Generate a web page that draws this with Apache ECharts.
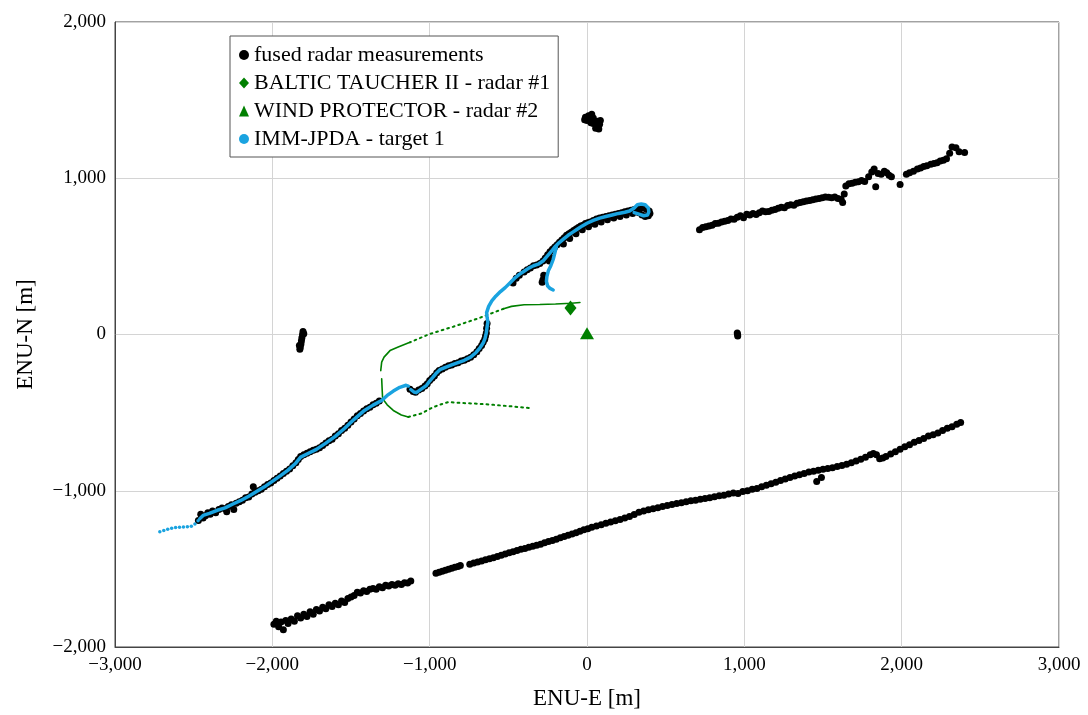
<!DOCTYPE html>
<html>
<head>
<meta charset="utf-8">
<script src="https://cdn.jsdelivr.net/npm/echarts@6/dist/echarts.min.js"></script>
<style>
html,body{margin:0;padding:0;background:#fff;}
#chart{width:1088px;height:715px;}
</style>
</head>
<body>
<div id="chart"></div>
<script>
// ---------- axis ticks ----------
const xTicks = [-3000, -2000, -1000, 0, 1000, 2000, 3000];
const yTicks = [-2000, -1000, 0, 1000, 2000];

// ---------- legend names ----------
const seriesNames = ['fused radar measurements', 'BALTIC TAUCHER II - radar #1', 'WIND PROTECTOR - radar #2', 'IMM-JPDA - target 1'];

// ---------- fused radar measurements (black) ----------
const fusedLowerA = [[-1990,-1855],[-1975,-1835],[-1960,-1870],[-1945,-1840],[-1930,-1890],[-1915,-1830],[-1900,-1850],[-1880,-1820],[-1860,-1835],[-1840,-1800],[-1820,-1815],[-1800,-1790],[-1780,-1805],[-1760,-1775],[-1740,-1790],[-1720,-1760],[-1700,-1770],[-1680,-1745],[-1660,-1755],[-1640,-1730],[-1620,-1740],[-1600,-1720],[-1580,-1730],[-1560,-1705],[-1540,-1715],[-1520,-1690],[-1500,-1680],[-1480,-1670],[-1460,-1650],[-1440,-1655],[-1420,-1640],[-1400,-1645],[-1380,-1630],[-1360,-1625],[-1340,-1630],[-1320,-1615],[-1300,-1620],[-1280,-1605],[-1260,-1610],[-1240,-1600],[-1220,-1605],[-1200,-1595],[-1180,-1600],[-1160,-1588],[-1140,-1590],[-1120,-1578]];
const fusedLowerB = [[-960,-1528],[-940,-1522],[-920,-1515],[-900,-1508],[-880,-1502],[-860,-1496],[-840,-1490],[-820,-1484],[-805,-1478],[-745,-1470],[-720,-1463],[-695,-1456],[-670,-1449],[-645,-1442],[-620,-1435],[-595,-1428],[-570,-1421],[-545,-1413],[-520,-1405],[-495,-1397],[-470,-1390],[-445,-1383],[-420,-1375],[-395,-1369],[-370,-1362],[-345,-1355],[-320,-1348],[-295,-1342],[-270,-1333],[-245,-1325],[-220,-1318],[-195,-1310],[-170,-1300],[-145,-1292],[-120,-1285],[-95,-1276],[-70,-1268],[-45,-1259],[-20,-1250],[5,-1243]];
const fusedLowerC = [[30,-1234],[60,-1226],[90,-1218],[120,-1208],[150,-1200],[180,-1192],[210,-1184],[240,-1175],[270,-1165],[300,-1152],[330,-1138],[360,-1130],[390,-1122],[420,-1115],[450,-1108],[480,-1100],[510,-1094],[540,-1088],[570,-1082],[600,-1076],[630,-1070],[660,-1064],[690,-1060],[720,-1054],[750,-1050],[780,-1044],[810,-1038],[840,-1032],[870,-1028],[900,-1020],[930,-1015],[960,-1018],[990,-1005],[1020,-1000],[1050,-990],[1080,-985],[1110,-975],[1140,-965],[1170,-955],[1200,-945],[1230,-935],[1260,-925],[1290,-915],[1320,-905],[1350,-898],[1380,-890],[1410,-880],[1440,-875],[1460,-940],[1470,-868],[1490,-915],[1500,-862],[1530,-858],[1560,-852],[1590,-845],[1620,-838],[1650,-830],[1680,-820],[1710,-810],[1740,-798],[1770,-785],[1800,-770],[1820,-762],[1840,-770],[1860,-795],[1880,-790],[1900,-780],[1930,-765],[1960,-750],[1990,-735],[2020,-718],[2050,-705],[2080,-690],[2110,-678],[2140,-665],[2170,-650],[2200,-642],[2230,-630],[2260,-615],[2290,-600],[2320,-590],[2350,-575],[2375,-563]];
const fusedUpperRight = [[715,670],[735,685],[755,690],[775,695],[795,700],[815,710],[835,712],[855,720],[875,725],[895,730],[915,740],[935,738],[955,750],[975,760],[995,748],[1015,770],[1035,765],[1055,775],[1075,768],[1095,780],[1115,790],[1135,785],[1155,788],[1175,795],[1195,800],[1215,808],[1235,815],[1255,812],[1275,825],[1295,830],[1315,828],[1335,840],[1355,845],[1375,850],[1395,855],[1415,858],[1435,862],[1455,868],[1475,870],[1495,875],[1515,880],[1535,878],[1555,875],[1575,880],[1595,870],[1615,865],[1625,845],[1635,900],[1645,950],[1665,965],[1685,968],[1705,975],[1725,978],[1745,985],[1765,980],[1790,1010],[1810,1040],[1825,1060],[1835,945],[1850,1030],[1870,1025],[1890,1045],[1905,1035],[1920,1020],[1935,1010],[1990,960],[2030,1025],[2050,1035],[2075,1045],[2100,1060],[2120,1065],[2140,1075],[2160,1080],[2185,1090],[2205,1095],[2225,1100],[2245,1110],[2265,1115],[2285,1125],[2305,1160],[2320,1200],[2345,1195],[2365,1170],[2400,1165]];
const fusedTargetA = [[-2470,-1190],[-2455,-1150],[-2440,-1175],[-2425,-1160],[-2410,-1140],[-2395,-1150],[-2380,-1130],[-2360,-1140],[-2340,-1120],[-2320,-1110],[-2300,-1115],[-2290,-1134],[-2280,-1100],[-2260,-1090],[-2245,-1120],[-2230,-1080],[-2210,-1070],[-2190,-1060],[-2170,-1045],[-2150,-1040],[-2130,-1020],[-2121,-975],[-2110,-1010],[-2090,-1000],[-2070,-990],[-2050,-975],[-2030,-960],[-2010,-950],[-1990,-935],[-1970,-920],[-1950,-905],[-1930,-890],[-1910,-875],[-1890,-860],[-1870,-840],[-1850,-820],[-1835,-800],[-1820,-780],[-1800,-770],[-1780,-760],[-1760,-750],[-1740,-740],[-1720,-735],[-1700,-725],[-1680,-710],[-1660,-695],[-1640,-680],[-1620,-670],[-1600,-650],[-1580,-635],[-1560,-615],[-1540,-600],[-1520,-580],[-1500,-560],[-1480,-540],[-1460,-520],[-1440,-505],[-1420,-490],[-1400,-475],[-1380,-465],[-1360,-450],[-1340,-440],[-1320,-425]];
const fusedTargetB = [[-1125,-350],[-1105,-365],[-1090,-370],[-1070,-355],[-1050,-345],[-1030,-330],[-1015,-315],[-1000,-295],[-985,-280],[-970,-265],[-955,-245],[-940,-230],[-920,-220],[-900,-210],[-880,-200],[-860,-195],[-840,-185],[-820,-180],[-800,-170],[-780,-165],[-760,-155],[-740,-145],[-720,-130],[-700,-110],[-685,-90],[-670,-70],[-660,-50],[-650,-30],[-645,-10],[-640,10],[-638,40],[-635,70],[-470,330],[-450,360],[-430,380]];
const fusedTargetC = [[-400,400],[-380,415],[-360,425],[-340,440],[-320,445],[-300,455],[-280,470],[-265,490],[-250,510],[-235,530],[-220,545],[-205,560],[-190,575],[-175,590],[-160,605],[-145,620],[-130,635],[-115,645],[-100,655],[-85,665],[-70,675],[-55,685],[-40,695],[-25,700],[-10,710],[5,715],[20,720],[40,730],[60,740],[80,745],[100,750],[120,755],[140,760],[160,765],[180,770],[200,775],[220,780],[240,785],[260,790],[280,795],[300,800],[320,805],[340,810],[360,810],[380,800],[395,790],[400,775],[390,760],[370,755],[350,765],[-150,580],[-110,615],[-70,645],[-30,670],[10,690],[50,705],[90,720],[130,735],[170,745],[210,755],[250,765],[290,775],[330,780],[-275,380],[-280,350],[-285,335],[-240,470],[-230,490]];
const fusedClusters = [[-10,1390],[10,1400],[30,1410],[20,1380],[0,1370],[-15,1375],[40,1385],[50,1360],[60,1340],[70,1330],[80,1345],[85,1370],[65,1365],[40,1350],[55,1320],[75,1315],[25,1355],[-1805,20],[-1808,0],[-1812,-20],[-1815,-40],[-1818,-60],[-1822,-80],[-1825,-95],[-1800,5],[-1828,-70],[955,10],[958,-10],[957,0]];

// ---------- radar ownship positions ----------
const radar1Pos = [[-105,170]];
const radar2Pos = [[0,8]];

// ---------- ownship track of radar #1 (green) ----------
const greenSolid1 = [[-45,205],[-100,200],[-200,195],[-300,192],[-400,190],[-480,180],[-530,165]];
const greenDotted1 = [[-530,165],[-700,100],[-850,50],[-1000,3],[-1125,-50]];
const greenSolid2 = [[-1125,-50],[-1200,-80],[-1252,-103],[-1290,-145],[-1305,-177],[-1311,-231]];
const greenSolid3 = [[-1305,-284],[-1302,-350],[-1299,-411],[-1270,-450],[-1231,-486],[-1180,-515],[-1136,-528]];
const greenDotted2 = [[-1136,-528],[-1050,-505],[-998,-475],[-940,-450],[-881,-433],[-800,-438],[-700,-443],[-595,-450],[-480,-460],[-362,-471]];

// ---------- IMM-JPDA target 1 (blue) ----------
const blueTail = [[-2715,-1262],[-2690,-1255],[-2665,-1246],[-2640,-1240],[-2615,-1235],[-2590,-1233],[-2565,-1232],[-2540,-1231],[-2515,-1227],[-2492,-1212],[-2472,-1192]];
const blueTrack1 = [[-2462,-1180],[-2440,-1158],[-2400,-1145],[-2350,-1125],[-2300,-1110],[-2250,-1085],[-2200,-1062],[-2150,-1035],[-2100,-1005],[-2050,-975],[-2000,-940],[-1950,-905],[-1900,-868],[-1850,-822],[-1820,-785],[-1780,-765],[-1720,-735],[-1660,-695],[-1600,-652],[-1540,-600],[-1480,-543],[-1420,-490],[-1360,-452],[-1305,-422],[-1270,-390],[-1231,-362],[-1190,-338],[-1150,-325],[-1136,-330]];
const blueTrack2 = [[-1120,-352],[-1100,-368],[-1085,-372],[-1065,-358],[-1040,-340],[-1020,-325],[-1000,-298],[-980,-275],[-960,-250],[-935,-225],[-900,-210],[-860,-195],[-820,-180],[-780,-165],[-740,-145],[-705,-115],[-680,-85],[-660,-55],[-648,-25],[-640,10],[-635,50],[-630,80],[-635,110],[-638,140],[-625,180],[-605,215],[-580,245],[-550,275],[-520,300],[-490,330],[-460,360],[-430,385],[-400,405],[-370,425],[-340,440],[-310,450],[-280,470],[-250,505],[-220,540],[-200,565],[-180,585],[-150,610],[-120,635],[-90,655],[-60,675],[-30,695],[0,712],[40,730],[80,745],[120,755],[160,765],[200,775],[240,782],[270,790],[300,810],[320,830],[345,835],[370,830],[390,810],[393,785],[385,765],[360,760],[330,770],[300,780]];
const blueTrack3 = [[-195,560],[-205,520],[-215,480],[-230,440],[-245,410],[-255,370],[-258,340],[-250,310],[-235,295],[-215,285]];

const BLACK = '#000000';
const GREEN = '#008000';
const BLUE = '#1aa3e0';

function fmt(v){
  const s = Math.abs(v).toLocaleString('en-US');
  return v < 0 ? '\u2212' + s : s;
}

const font = 'Liberation Serif, Times New Roman, serif';

function fusedSeries(data){
  return {name: seriesNames[0], type:'scatter', data:data, symbol:'circle', symbolSize:7,
          itemStyle:{color:BLACK, opacity:1}, z:2, silent:true};
}
function greenLine(data, dotted){
  return {name:'ownship', type:'line', data:data, showSymbol:false, symbol:'none', z:3, silent:true,
          lineStyle:{color:GREEN, width: dotted ? 2 : 1.6, type: dotted ? [1.8,4] : 'solid', cap:'round', opacity:1}};
}
function blueLine(data){
  return {name: seriesNames[3], type:'line', data:data, showSymbol:false, symbol:'circle', symbolSize:6, z:4, silent:true,
          itemStyle:{color:BLUE}, lineStyle:{color:BLUE, width:3.5, cap:'round', join:'round', opacity:1}};
}

const chart = echarts.init(document.getElementById('chart'), null, {renderer:'canvas'});
chart.setOption({
  animation:false,
  backgroundColor:'#ffffff',
  grid:{left:115, right:29, top:22, bottom:66, show:true, borderColor:'#444', borderWidth:1, backgroundColor:'transparent'},
  xAxis:{type:'value', min:xTicks[0], max:xTicks[xTicks.length-1], interval:1000,
         name:'ENU-E [m]', nameLocation:'middle', nameGap:40,
         nameTextStyle:{fontFamily:font, fontSize:23, color:'#000'},
         axisLine:{show:true, onZero:false, lineStyle:{color:'#444'}}, axisTick:{show:false},
         axisLabel:{formatter:fmt, fontFamily:font, fontSize:19, color:'#000', margin:9},
         splitLine:{show:true, lineStyle:{color:'#d4d4d4', width:1}}},
  yAxis:{type:'value', min:yTicks[0], max:yTicks[yTicks.length-1], interval:1000,
         name:'ENU-N [m]', nameLocation:'middle', nameGap:78, nameRotate:90,
         nameTextStyle:{fontFamily:font, fontSize:23, color:'#000'},
         axisLine:{show:true, onZero:false, lineStyle:{color:'#444'}}, axisTick:{show:false},
         axisLabel:{formatter:fmt, fontFamily:font, fontSize:19, color:'#000', margin:9},
         splitLine:{show:true, lineStyle:{color:'#d4d4d4', width:1}}},
  legend:{
    data:[
      {name:seriesNames[0], icon:'circle'},
      {name:seriesNames[1], icon:'diamond'},
      {name:seriesNames[2], icon:'triangle'},
      {name:seriesNames[3], icon:'circle', itemStyle:{color:BLUE}}
    ],
    orient:'vertical', left:230, top:36,
    backgroundColor:'#fff', borderColor:'#555', borderWidth:1, borderRadius:0,
    padding:[8,8,7,9], itemGap:6, itemWidth:10, itemHeight:11,
    textStyle:{fontFamily:font, fontSize:22, color:'#000', lineHeight:20, padding:[0,0,0,0]},
    selectedMode:false
  },
  series:[
    fusedSeries(fusedLowerA), fusedSeries(fusedLowerB), fusedSeries(fusedLowerC),
    fusedSeries(fusedUpperRight), fusedSeries(fusedTargetA), fusedSeries(fusedTargetB),
    fusedSeries(fusedTargetC), fusedSeries(fusedClusters),
    greenLine(greenSolid1,false), greenLine(greenDotted1,true), greenLine(greenSolid2,false),
    greenLine(greenSolid3,false), greenLine(greenDotted2,true),
    {name: seriesNames[3], type:'scatter', data:blueTail, symbol:'circle', symbolSize:3.5, itemStyle:{color:BLUE, opacity:1}, z:4, silent:true},
    blueLine(blueTrack1), blueLine(blueTrack2), blueLine(blueTrack3),
    {name: seriesNames[1], type:'scatter', data:radar1Pos, symbol:'diamond', symbolSize:[12,15], itemStyle:{color:GREEN, opacity:1}, z:5, silent:true},
    {name: seriesNames[2], type:'scatter', data:radar2Pos, symbol:'triangle', symbolSize:[14,12], itemStyle:{color:GREEN, opacity:1}, z:5, silent:true}
  ]
});
</script>
</body>
</html>
